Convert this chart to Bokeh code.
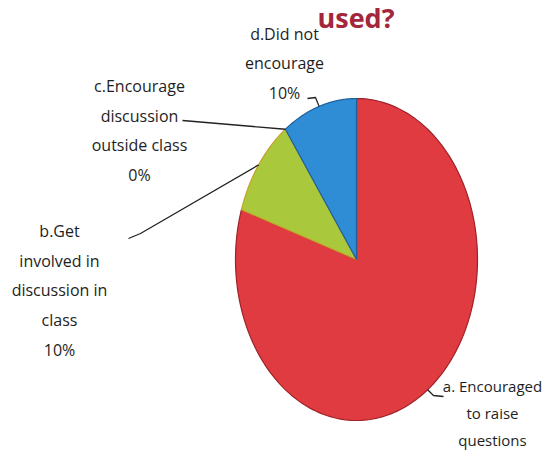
import numpy as np
from bokeh.plotting import figure
from bokeh.models import Range1d, ColumnDataSource
from bokeh.embed import file_html
from bokeh.resources import INLINE
from bokeh.core.properties import value

# ---- data ----
categories = ["a. Encouraged to raise questions",
              "b.Get involved in discussion in class",
              "c.Encourage discussion outside class",
              "d.Did not encourage"]
shares = [80, 10, 0, 10]
label_texts = ["a. Encouraged\nto raise\nquestions",
               "b.Get\ninvolved in\ndiscussion in\nclass\n10%",
               "c.Encourage\ndiscussion\noutside class\n0%",
               "d.Did not\nencourage\n10%"]
slice_colors = ["#DF3B40", "#A9C83B", "#2F8DD6", "#2F8DD6"]
edge_colors = ["#9E2228", "#C9A02A", "#1F5F99", "#1F5F99"]
title_text = "used?"

# ---- layout (pixels) ----
W, H = 543, 451
CX, CY, RX, RY = 356, 259, 121, 161
label_pos = [(492, 412), (59, 290), (139, 130), (284, 63)]
label_sizes = ["15px", "16px", "16px", "16px"]
leader_elbows = [[(443, 396), (433, 395)],
                 [(128, 238), (140, 233)],
                 [(182, 120)],
                 [(307, 98), (315, 97)]]

p = figure(width=W, height=H, x_range=Range1d(0, W), y_range=Range1d(H, 0),
           x_axis_type=None, y_axis_type=None, output_backend="svg",
           toolbar_location=None, min_border=0)
p.grid.visible = False
p.outline_line_color = None
p.background_fill_color = "white"

# ---- slices (clockwise from 12 o'clock) ----
total = float(sum(shares))
start = 90.0
xs, ys, fills, lines, mids = [], [], [], [], []
for s, fc, lc in zip(shares, slice_colors, edge_colors):
    sweep = 360.0 * s / total
    end = start - sweep
    mids.append(np.deg2rad((start + end) / 2))
    if s > 0:
        th = np.deg2rad(np.linspace(start, end, 200))
        xs.append([CX] + list(CX + RX * np.cos(th)))
        ys.append([CY] + list(CY - RY * np.sin(th)))
        fills.append(fc)
        lines.append(lc)
    start = end

p.patches(xs, ys, fill_color=fills, line_color=lines, line_width=1.2)

# ---- leader lines ----
lx, ly = [], []
for elbows, m in zip(leader_elbows, mids):
    ex = CX + RX * np.cos(m)
    ey = CY - RY * np.sin(m)
    lx.append([e[0] for e in elbows] + [ex])
    ly.append([e[1] for e in elbows] + [ey])
p.multi_line(lx, ly, line_color="#222222", line_width=1.3)

# ---- labels ----
src = ColumnDataSource(dict(x=[q[0] for q in label_pos], y=[q[1] for q in label_pos],
                            t=label_texts, fs=label_sizes))
p.text(x="x", y="y", text="t", source=src, text_font=value("Open Sans"),
       text_font_size="fs", text_color="#1E1E1E", text_align="center",
       text_baseline="middle", text_line_height=1.35)

# ---- title fragment ----
p.text(x=[317], y=[17], text=[title_text], text_font=value("Open Sans"),
       text_font_size="27px", text_font_style="bold", text_color="#A3263B",
       text_align="left", text_baseline="alphabetic")

open("out.html", "w").write(file_html(p, INLINE))
